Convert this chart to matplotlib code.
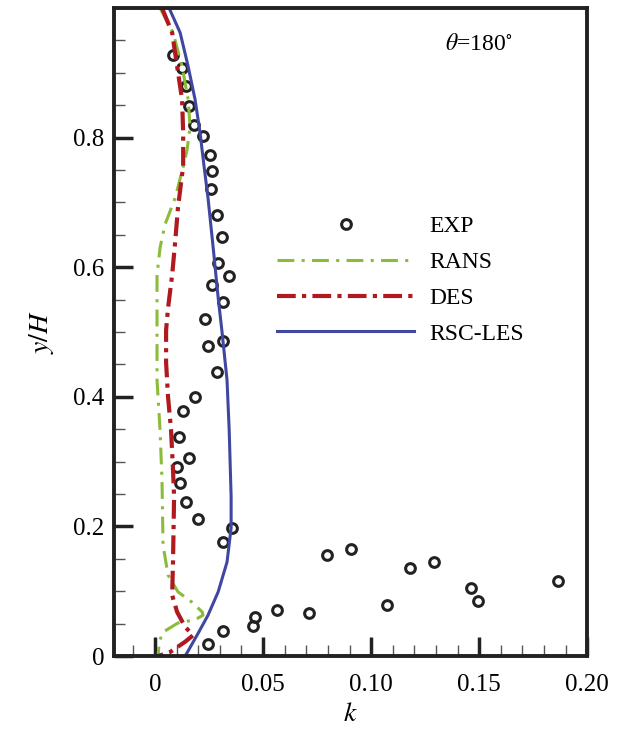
import matplotlib.pyplot as plt
import numpy as np
from matplotlib.ticker import MultipleLocator

plt.rcParams['font.family'] = ['Liberation Serif', 'DejaVu Serif']
plt.rcParams['mathtext.fontset'] = 'stix'

# EXP measurements (k, y/H)
exp_k = [0.0083, 0.0125, 0.0144, 0.0157, 0.0181, 0.0222, 0.0255, 0.0264, 0.0259,
         0.0287, 0.0310, 0.0292, 0.0343, 0.0264, 0.0315, 0.0231, 0.0245, 0.0315,
         0.0287, 0.0185, 0.0130, 0.0111, 0.0157, 0.0102, 0.0116, 0.0144, 0.0199,
         0.0356, 0.0315, 0.0796, 0.0907, 0.0565, 0.0713, 0.0463, 0.0454, 0.0315,
         0.0245, 0.1074, 0.1181, 0.1292, 0.1463, 0.1495, 0.1866]
exp_y = [0.928, 0.908, 0.880, 0.849, 0.820, 0.802, 0.774, 0.748, 0.720,
         0.680, 0.647, 0.607, 0.587, 0.573, 0.547, 0.520, 0.479, 0.486,
         0.439, 0.400, 0.378, 0.338, 0.306, 0.292, 0.267, 0.238, 0.212,
         0.198, 0.176, 0.156, 0.165, 0.071, 0.066, 0.060, 0.046, 0.039,
         0.019, 0.079, 0.136, 0.145, 0.105, 0.085, 0.116]

# RANS
rans_k = [0.0023, 0.0083, 0.0125, 0.0153, 0.0162, 0.0148, 0.0130, 0.0093, 0.0046,
          0.0023, 0.0009, 0.0009, 0.0009, 0.0023, 0.0032, 0.0037, 0.0060, 0.0106,
          0.0171, 0.0218, 0.0222, 0.0185, 0.0106, 0.0037, 0.0019, 0.0014]
rans_y = [1.000, 0.962, 0.910, 0.859, 0.817, 0.781, 0.755, 0.707, 0.666,
          0.630, 0.588, 0.537, 0.426, 0.349, 0.272, 0.171, 0.125, 0.099,
          0.083, 0.068, 0.063, 0.056, 0.051, 0.037, 0.022, 0.000]

# DES
des_k = [0.0032, 0.0079, 0.0102, 0.0125, 0.0130, 0.0130, 0.0125, 0.0106, 0.0093,
         0.0079, 0.0060, 0.0051, 0.0051, 0.0060, 0.0074, 0.0083, 0.0088, 0.0083,
         0.0079, 0.0102, 0.0139, 0.0176, 0.0139, 0.0069, 0.0014]
des_y = [1.000, 0.962, 0.910, 0.859, 0.808, 0.755, 0.743, 0.692, 0.639,
         0.588, 0.537, 0.503, 0.453, 0.400, 0.349, 0.287, 0.246, 0.145,
         0.094, 0.068, 0.045, 0.032, 0.022, 0.006, 0.000]

# RSC-LES
les_k = [0.0065, 0.0116, 0.0153, 0.0185, 0.0208, 0.0227, 0.0245, 0.0269, 0.0292,
         0.0310, 0.0333, 0.0343, 0.0352, 0.0352, 0.0333, 0.0292, 0.0245, 0.0194,
         0.0148, 0.0139]
les_y = [1.000, 0.962, 0.910, 0.859, 0.808, 0.755, 0.707, 0.630, 0.553,
         0.500, 0.426, 0.349, 0.246, 0.198, 0.145, 0.099, 0.063, 0.032,
         0.005, 0.000]

fig = plt.figure(figsize=(6.3, 7.33), dpi=100)
ax = fig.add_axes([0.181, 0.105, 0.751, 0.884])

ax.plot(exp_k, exp_y, 'o', ms=7, mfc='none', mec='#222222', mew=2.2, label='EXP')
ax.plot(rans_k, rans_y, color='#8cbb3a', lw=2.2, dashes=(5.5, 2.4, 1, 2.4), label='RANS')
ax.plot(des_k, des_y, color='#b0191f', lw=3.0, dashes=(4.5, 1.5, 1, 1.5), label='DES')
ax.plot(les_k, les_y, color='#3f47a0', lw=2.2, label='RSC-LES')

ax.set_xlim(-0.019, 0.2)
ax.set_ylim(0, 1.0)
ax.set_xticks([0, 0.05, 0.10, 0.15, 0.20])
ax.set_xticklabels(['0', '0.05', '0.10', '0.15', '0.20'])
ax.set_yticks([0, 0.2, 0.4, 0.6, 0.8])
ax.set_yticklabels(['0', '0.2', '0.4', '0.6', '0.8'])
ax.xaxis.set_minor_locator(MultipleLocator(0.01))
ax.yaxis.set_minor_locator(MultipleLocator(0.05))
ax.tick_params(which='major', direction='in', length=14, width=2.5,
               labelsize=18, color='#222222', pad=7)
ax.tick_params(axis='x', which='major', pad=13)
ax.tick_params(which='minor', direction='in', length=8, width=1.0, color='#555555')
ax.tick_params(top=False, right=False, which='both')
for s in ax.spines.values():
    s.set_linewidth(2.8)
    s.set_color('#222222')

ax.set_xlabel('$k$', fontsize=20, labelpad=4)
ax.set_ylabel('$y/H$', fontsize=20, labelpad=12)

ax.text(0.150, 0.944, r'$\theta$=180$^{\circ}$', fontsize=17, ha='center', va='center')

ax.legend(loc='center', bbox_to_anchor=(0.606, 0.58), frameon=False, fontsize=17,
          handlelength=5.8, handletextpad=0.65, labelspacing=0.6)

fig.savefig('out.png', dpi=100)
